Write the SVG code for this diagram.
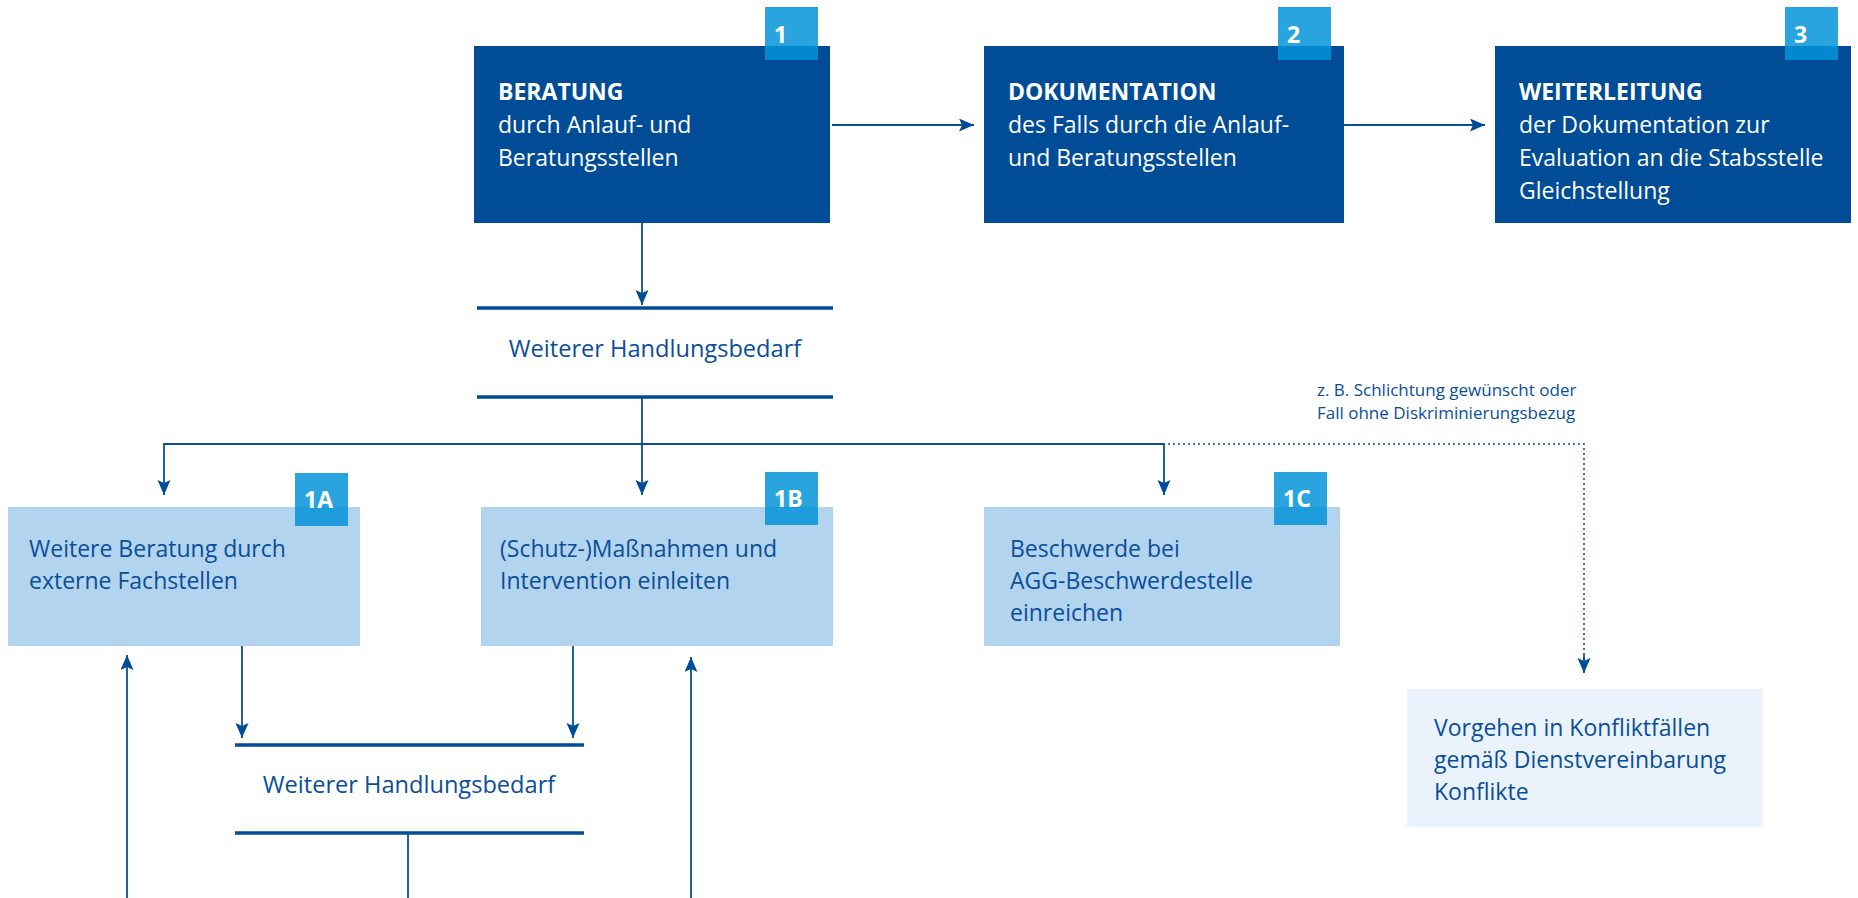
<svg xmlns="http://www.w3.org/2000/svg" width="1858" height="898" viewBox="0 0 1858 898">
<style>
.dark{fill:#004c97}
.light{fill:#b3d4ef}
.pale{fill:#eaf3fb}
.badge{fill:#0293d9;fill-opacity:0.843}
.bt{font-family:"Open Sans","Liberation Sans",sans-serif;font-size:23px;font-weight:700;fill:#ffffff}
.wt{font-family:"Open Sans","Liberation Sans",sans-serif;font-size:23px;fill:#ffffff}
.wb{font-family:"Open Sans","Liberation Sans",sans-serif;font-size:23px;font-weight:700;fill:#ffffff}
.bl{font-family:"Open Sans","Liberation Sans",sans-serif;font-size:23px;fill:#0a4e98}
.dl{font-family:"Open Sans","Liberation Sans",sans-serif;font-size:23.6px;fill:#0a4e98}
.sm{font-family:"Open Sans","Liberation Sans",sans-serif;font-size:17px;fill:#0a4e98}
.con{stroke:#0a4e98;stroke-width:1.8;fill:none}
.dot{stroke:#0a4e98;stroke-width:1.6;fill:none;stroke-dasharray:2 3}
.bar{stroke:#004c97;stroke-width:3.5}
</style>
<defs>
<marker id="ah" markerUnits="userSpaceOnUse" markerWidth="16" markerHeight="14" refX="15" refY="6.5" orient="auto">
<path d="M0,0 L15,6.5 L0,13 L3,6.5 z" fill="#004c97"/>
</marker>
</defs>

<g id="connectors">
<line class="con" x1="832" y1="125" x2="974" y2="125" marker-end="url(#ah)"/>
<line class="con" x1="1344" y1="125" x2="1485" y2="125" marker-end="url(#ah)"/>
<line class="con" x1="642" y1="223" x2="642" y2="305" marker-end="url(#ah)"/>
<line class="con" x1="642" y1="397" x2="642" y2="495" marker-end="url(#ah)"/>
<line class="con" x1="164" y1="444" x2="1164" y2="444"/>
<line class="con" x1="164" y1="443.1" x2="164" y2="495" marker-end="url(#ah)"/>
<line class="con" x1="1164" y1="443.1" x2="1164" y2="495" marker-end="url(#ah)"/>
<path class="dot" d="M1168,444 L1584,444 L1584,660"/>
<line class="con" x1="1584" y1="655" x2="1584" y2="673" marker-end="url(#ah)"/>
<line class="con" x1="242" y1="646" x2="242" y2="738" marker-end="url(#ah)"/>
<line class="con" x1="573" y1="646" x2="573" y2="738" marker-end="url(#ah)"/>
<line class="con" x1="408" y1="833" x2="408" y2="898"/>
<line class="con" x1="127" y1="898" x2="127" y2="655" marker-end="url(#ah)"/>
<line class="con" x1="691" y1="898" x2="691" y2="657" marker-end="url(#ah)"/>
</g>

<g id="node-1">
<rect class="dark" x="474" y="46" width="356" height="177"/>
<rect class="badge" x="765" y="7" width="53" height="53"/>
<text class="wb" x="774" y="43">1</text>
<text class="bt" x="498" y="100">BERATUNG</text>
<text class="wt" x="498" y="133">durch Anlauf- und</text>
<text class="wt" x="498" y="166">Beratungsstellen</text>
</g>

<g id="node-2">
<rect class="dark" x="984" y="46" width="360" height="177"/>
<rect class="badge" x="1278" y="7" width="53" height="53"/>
<text class="wb" x="1287" y="43">2</text>
<text class="bt" x="1008" y="100">DOKUMENTATION</text>
<text class="wt" x="1008" y="133">des Falls durch die Anlauf-</text>
<text class="wt" x="1008" y="166">und Beratungsstellen</text>
</g>

<g id="node-3">
<rect class="dark" x="1495" y="46" width="356" height="177"/>
<rect class="badge" x="1785" y="7" width="53" height="53"/>
<text class="wb" x="1794" y="43">3</text>
<text class="bt" x="1519" y="100">WEITERLEITUNG</text>
<text class="wt" x="1519" y="133">der Dokumentation zur</text>
<text class="wt" x="1519" y="166">Evaluation an die Stabsstelle</text>
<text class="wt" x="1519" y="199">Gleichstellung</text>
</g>

<g id="decision-1">
<line class="bar" x1="477" y1="308" x2="833" y2="308"/>
<line class="bar" x1="477" y1="397" x2="833" y2="397"/>
<text class="dl" x="655" y="357" text-anchor="middle">Weiterer Handlungsbedarf</text>
</g>

<g id="node-1a">
<rect class="light" x="8" y="507" width="352" height="139"/>
<rect class="badge" x="295" y="473" width="53" height="53"/>
<text class="wb" x="304" y="508">1A</text>
<text class="bl" x="29" y="557">Weitere Beratung durch</text>
<text class="bl" x="29" y="589">externe Fachstellen</text>
</g>

<g id="node-1b">
<rect class="light" x="481" y="507" width="352" height="139"/>
<rect class="badge" x="765" y="472" width="53" height="53"/>
<text class="wb" x="774" y="507">1B</text>
<text class="bl" x="500" y="557">(Schutz-)Maßnahmen und</text>
<text class="bl" x="500" y="589">Intervention einleiten</text>
</g>

<g id="node-1c">
<rect class="light" x="984" y="507" width="356" height="139"/>
<rect class="badge" x="1274" y="472" width="53" height="53"/>
<text class="wb" x="1283" y="507">1C</text>
<text class="bl" x="1010" y="557">Beschwerde bei</text>
<text class="bl" x="1010" y="589">AGG-Beschwerdestelle</text>
<text class="bl" x="1010" y="621">einreichen</text>
</g>

<g id="annotation">
<text class="sm" x="1317" y="396">z. B. Schlichtung gewünscht oder</text>
<text class="sm" x="1317" y="419">Fall ohne Diskriminierungsbezug</text>
</g>

<g id="node-konflikt">
<rect class="pale" x="1407" y="689" width="356" height="138"/>
<text class="bl" x="1434" y="736">Vorgehen in Konfliktfällen</text>
<text class="bl" x="1434" y="768">gemäß Dienstvereinbarung</text>
<text class="bl" x="1434" y="800">Konflikte</text>
</g>

<g id="decision-2">
<line class="bar" x1="235" y1="745" x2="584" y2="745"/>
<line class="bar" x1="235" y1="833" x2="584" y2="833"/>
<text class="dl" x="409" y="793" text-anchor="middle">Weiterer Handlungsbedarf</text>
</g>
</svg>
